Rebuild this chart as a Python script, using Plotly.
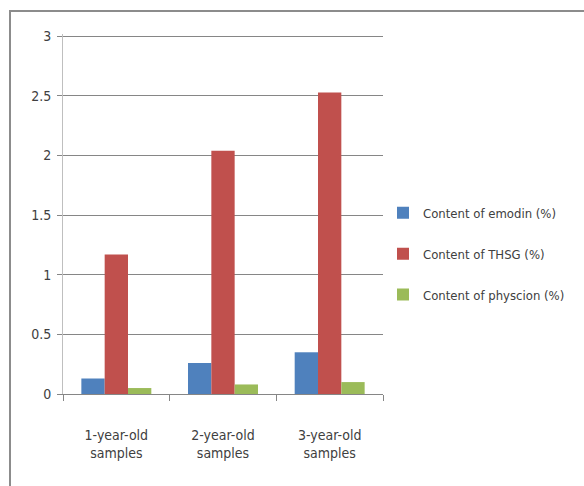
import plotly.graph_objects as go

categories = ["1-year-old<br>samples", "2-year-old<br>samples", "3-year-old<br>samples"]
emodin = [0.13, 0.26, 0.35]
thsg = [1.17, 2.04, 2.53]
physcion = [0.05, 0.08, 0.10]

series_names = ["Content of emodin (%)", "Content of THSG (%)", "Content of physcion (%)"]
colors = ["#4F81BD", "#C0504D", "#9BBB59"]

FONT = "Liberation Sans Narrow, DejaVu Sans Condensed, Arial, sans-serif"

fig = go.Figure()
for i, (name, vals, col) in enumerate(zip(series_names, [emodin, thsg, physcion], colors)):
    fig.add_trace(go.Bar(
        x=categories, y=vals, name=name,
        marker=dict(color=col, line=dict(width=0)),
        legendgroup=f"g{i}",
    ))

fig.update_layout(
    width=584, height=486,
    margin=dict(l=63, r=201, t=34, b=92, autoexpand=False),
    paper_bgcolor="white", plot_bgcolor="white",
    barmode="group", bargap=0.344, bargroupgap=0,
    font=dict(family=FONT, color="#404040", size=13),
    showlegend=True,
    legend=dict(
        x=1.0, xanchor="left", y=0.545, yanchor="top",
        font=dict(family=FONT, size=13, color="#404040"),
        traceorder="grouped", tracegroupgap=21,
        itemwidth=30, bgcolor="rgba(0,0,0,0)",
    ),
    xaxis=dict(
        type="category", range=[-0.5, 2.5],
        showline=True, linecolor="#868686", linewidth=1,
        ticks="outside", tickson="boundaries", ticklen=6, tickcolor="#868686",
        ticklabelstandoff=28,
        showgrid=False, tickfont=dict(size=14, color="#404040"),
    ),
    yaxis=dict(
        range=[0, 3.02], tickvals=[0, 0.5, 1, 1.5, 2, 2.5, 3],
        ticktext=["0", "0.5", "1", "1.5", "2", "2.5", "3"],
        showline=True, linecolor="#BFBFBF", linewidth=1,
        ticks="outside", ticklen=5, tickcolor="#868686",
        ticklabelstandoff=3,
        showgrid=True, gridcolor="#868686", gridwidth=1,
        zeroline=False, tickfont=dict(size=14, color="#404040"),
    ),
    shapes=[dict(
        type="rect", xref="paper", yref="paper",
        x0=(10 - 63) / 320, x1=(600 - 63) / 320,
        y0=(394 - 500) / 360, y1=(394 - 11) / 360,
        line=dict(color="#8C8C8C", width=2), fillcolor="rgba(0,0,0,0)", layer="below",
    )],
)

fig.write_html("out.html")
